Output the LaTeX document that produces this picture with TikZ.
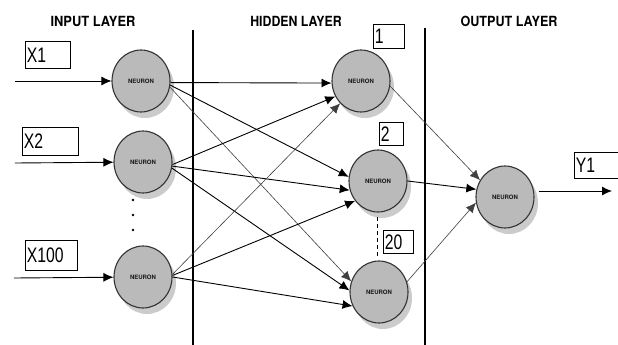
\documentclass[tikz,border=0pt]{standalone}
\usepackage{fontspec}
\setmainfont{Liberation Sans}
\newfontfamily\titlefont{TeX Gyre Heros}
\usetikzlibrary{shapes.geometric,arrows.meta,shadows}
\newcommand{\boxtxt}[2]{\makebox[#1][l]{\scalebox{0.75}[1]{#2}}}
\tikzset{
  neuron/.style={ellipse, draw=black!80, line width=1.1pt, fill=black!27,
    minimum width=58pt, minimum height=62pt, inner sep=0pt,
    drop shadow={shadow xshift=4pt, shadow yshift=-6pt, fill=black!25, opacity=0.8},
    font=\titlefont\bfseries\fontsize{6}{6}\selectfont, text=black!90},
  title/.style={font=\titlefont\bfseries\fontsize{14}{14}\selectfont},
  lbl/.style={draw, line width=0.8pt, inner ysep=0pt, inner xsep=1.5pt, anchor=north west,
    text height=15pt, text depth=0pt, font=\fontsize{21}{21}\selectfont},
  arr/.style={line width=0.9pt, -{Latex[length=10pt,width=9pt]}},
  conn/.style={line width=0.9pt, -{Latex[length=10pt,width=9pt]}},
  thinconn/.style={line width=0.6pt, draw=black!75, -{Latex[length=10pt,width=9pt]}},
  layerline/.style={line width=1.1pt}
}
\begin{document}
\begin{tikzpicture}[x=1pt,y=-1pt]
\clip (0,0) rectangle (618,345);
\fill[white] (0,0) rectangle (618,345);

% titles
\node[title] (t1) at (93,21) {\scalebox{0.92}[1]{INPUT LAYER}};
\node[title] (t2) at (296,21) {\scalebox{0.88}[1]{HIDDEN LAYER}};
\node[title] (t3) at (509,21) {\scalebox{0.9}[1]{OUTPUT LAYER}};

% layer separators
\coordinate (v1t) at (193,30); \coordinate (v1b) at (193,345);
\coordinate (v2t) at (425,28); \coordinate (v2b) at (425,345);
\draw[layerline] (v1t) -- (v1b);
\draw[layerline] (v2t) -- (v2b);

% neurons
\node[neuron] (i1) at (141,81) {NEURON};
\node[neuron] (i2) at (143,162) {NEURON};
\node[neuron] (i3) at (143,277) {NEURON};
\node[neuron] (h1) at (361,81) {NEURON};
\node[neuron] (h2) at (378,181) {NEURON};
\node[neuron] (h3) at (379,292) {NEURON};
\node[neuron] (o) at (505,197) {NEURON};

% labels
\node[lbl, minimum height=27pt] (x1) at (25,41) {\boxtxt{42pt}{X1}};
\node[lbl, minimum height=28pt] (x2) at (22,127) {\boxtxt{53pt}{X2}};
\node[lbl, minimum height=30pt] (x3) at (25,240) {\boxtxt{49pt}{X100}};
\node[lbl, minimum height=24pt] (n1) at (373,24) {\boxtxt{28pt}{1}};
\node[lbl, minimum height=23pt] (n2) at (379,122) {\boxtxt{21pt}{2}};
\node[lbl, minimum height=23pt] (n3) at (383,230) {\boxtxt{27pt}{20}};
\node[lbl, minimum height=26pt] (y1) at (574,152) {\boxtxt{47pt}{Y1}};

% input arrows
\coordinate (a1) at (15,81);
\coordinate (a2) at (15,163);
\coordinate (a3) at (14,278);
\draw[arr] (a1) -- (i1);
\draw[arr] (a2) -- (i2);
\draw[arr] (a3) -- (i3);

% dots
\foreach \yy/\nm in {200/d1,215/d2,230/d3}
  \node[circle, fill=black, inner sep=0pt, minimum size=2.6pt] (\nm) at (133,\yy) {};

% dashed between hidden
\coordinate (dsa) at (377,217);
\coordinate (dsb) at (377,257);
\draw[line width=0.9pt, dash pattern=on 4pt off 3pt] (dsa) -- (dsb);

% input -> hidden
\draw[conn] (i1.-3) -- (h1.184);
\draw[conn] (i1.-8) -- (h2.172);
\draw[thinconn] (i1.-12) -- (h3.159);
\draw[conn] (i2.-5) -- (h1.211);
\draw[conn] (i2.-8) -- (h2.198);
\draw[conn] (i2.-12) -- (h3.177);
\draw[thinconn] (i3.5) -- (h1.227);
\draw[conn] (i3.3) -- (h2.221);
\draw[conn] (i3.0) -- (h3.208);

% hidden -> output
\draw[thinconn] (h1.-10) -- (o.146);
\draw[conn] (h2.east) -- (o.165);
\draw[thinconn] (h3.20) -- (o.191);

% output arrow
\coordinate (out) at (612,191);
\draw[arr] (o.east |- out) ++(4,0) -- (out);
\end{tikzpicture}
\end{document}
